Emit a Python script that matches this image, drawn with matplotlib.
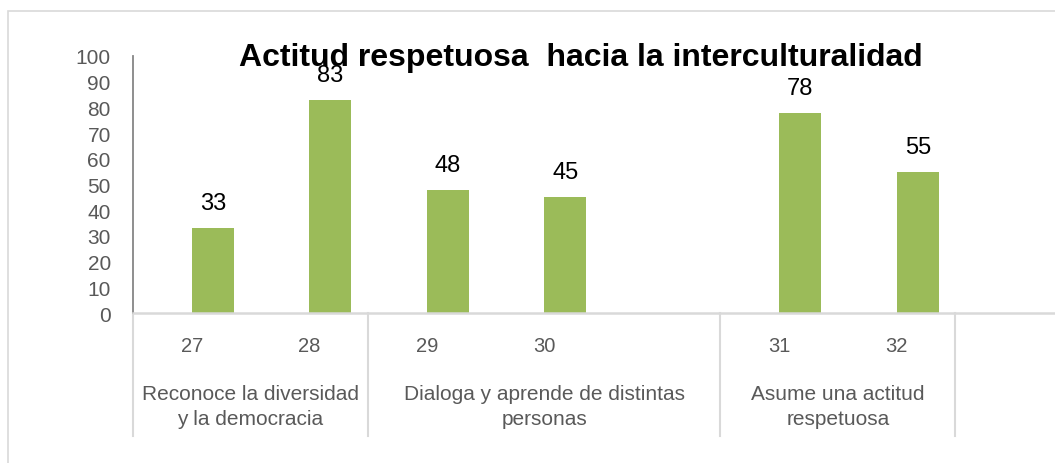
import matplotlib
matplotlib.use('Agg')
import matplotlib.pyplot as plt
import matplotlib.patches as mpatches
import matplotlib.transforms as mtransforms

# --- data -------------------------------------------------------------
ITEMS = ['27', '28', '29', '30', '', '31', '32', '']
VALUES = [33, 83, 48, 45, None, 78, 55, None]
GROUPS = ['Reconoce la diversidad\ny la democracia',
          'Dialoga y aprende de distintas\npersonas',
          'Asume una actitud\nrespetuosa']
GROUP_SPANS = [(0, 1), (2, 4), (5, 6)]   # slot index ranges (inclusive)
TITLE = 'Actitud respetuosa  hacia la interculturalidad'

BAR_COLOR = '#9BBB59'
GRID_GRAY = '#D9D9D9'
AXIS_GRAY = '#868686'
TEXT_GRAY = '#595959'

W, H = 1055, 464
plt.rcParams['font.family'] = ['Liberation Sans', 'DejaVu Sans']

fig = plt.figure(figsize=(W / 100, H / 100), dpi=100)

# chart frame (light gray, clipped at right/bottom like the source)
fig.patches.append(mpatches.Rectangle((8 / W, -0.2), 1.2, 1.2 - 12 / H,
                                      transform=fig.transFigure, fill=False,
                                      edgecolor=GRID_GRAY, linewidth=1.2))

ax_left, ax_right = 133 / W, 1.0
ax_bottom, ax_top = 1 - 314 / H, 1 - 57 / H
ax = fig.add_axes([ax_left, ax_bottom, ax_right - ax_left, ax_top - ax_bottom])

slot_w = 117.5
n_visible = (W - 133) / slot_w
ax.set_xlim(-0.5, n_visible - 0.5)
ax.set_ylim(0, 100)

bar_w = 42 / slot_w
xs = [i for i, v in enumerate(VALUES) if v is not None]
vals = [v for v in VALUES if v is not None]
ax.bar(xs, vals, width=bar_w, align='edge', color=BAR_COLOR, zorder=2)
for x, v in zip(xs, vals):
    ax.annotate(f'{v}', (x + bar_w / 2, v), xytext=(0, 18),
                textcoords='offset points', ha='center', va='center',
                fontsize=17, color='black')

# y axis
ax.set_yticks(range(0, 101, 10))
ax.tick_params(axis='y', length=0, pad=16, labelsize=15, labelcolor=TEXT_GRAY)
ax.tick_params(axis='x', length=0, labelbottom=False)
for s in ('top', 'right'):
    ax.spines[s].set_visible(False)
ax.spines['left'].set_color(AXIS_GRAY)
ax.spines['left'].set_linewidth(1.3)
ax.spines['bottom'].set_color(GRID_GRAY)
ax.spines['bottom'].set_linewidth(1.8)

# multi-level category axis
trans = mtransforms.blended_transform_factory(ax.transData, ax.transAxes)
px = 1 / 257.0
for i, lab in enumerate(ITEMS):
    if lab:
        ax.text(i, -33 * px, lab, transform=trans, ha='center', va='center',
                fontsize=14.5, color=TEXT_GRAY)
for name, (a, b) in zip(GROUPS, GROUP_SPANS):
    ax.text((a + b) / 2, -93 * px, name, transform=trans, ha='center',
            va='center', fontsize=15, color=TEXT_GRAY, linespacing=1.35)
for xb in (-0.5, 1.5, 4.5, 6.5):
    ax.plot([xb, xb], [0, -123 * px], transform=trans, color=GRID_GRAY,
            linewidth=1.5, clip_on=False, zorder=1)

fig.text(581 / W, 1 - 58 / H, TITLE, ha='center', va='center',
         fontsize=23, fontweight='bold', color='black', zorder=5)

fig.savefig('out.png', dpi=100)
